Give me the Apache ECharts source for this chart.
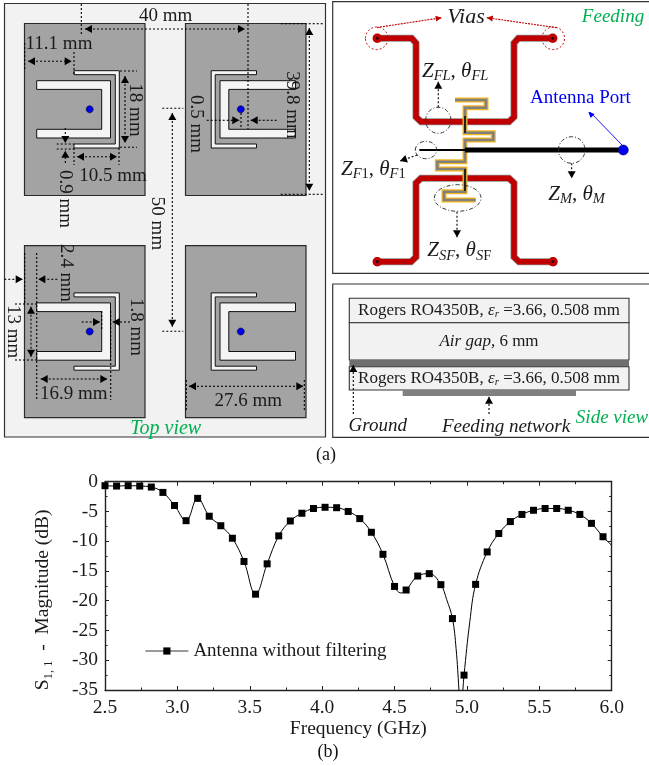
<!DOCTYPE html>
<html><head><meta charset="utf-8">
<style>html,body{margin:0;padding:0;background:#fff}#c{width:649px;height:766px}</style>
<script src="https://cdn.jsdelivr.net/npm/echarts@6/dist/echarts.min.js"></script></head>
<body><div id="c"></div>
<script>
const markerFreq=[2.50,2.58,2.66,2.74,2.82,2.90,2.98,3.06,3.14,3.22,3.30,3.38,3.46,3.54,3.62,3.70,3.78,3.86,3.94,4.02,4.10,4.18,4.26,4.34,4.42,4.50,4.58,4.66,4.74,4.82,4.90,4.98,5.06,5.14,5.22,5.30,5.38,5.46,5.54,5.62,5.70,5.78,5.86,5.94];
const markerS11=[-0.67,-0.73,-0.67,-0.73,-0.9,-1.8,-4.0,-6.55,-2.8,-5.8,-7.4,-9.5,-13.4,-18.9,-13.8,-9.1,-6.6,-5.3,-4.5,-4.3,-4.37,-5.0,-6.2,-8.5,-12.2,-17.6,-18.2,-15.85,-15.45,-17.3,-23.0,-32.5,-17.25,-11.8,-8.7,-6.7,-5.5,-4.8,-4.5,-4.5,-4.8,-5.5,-7.0,-9.25];
const curveFreq=[4.545,4.86,4.925,4.945,4.958,4.972,5.02,6.0];
const curveS11=[-18.7,-19.8,-28.0,-35.0,-40.0,-35.0,-23.5,-10.7];
const seriesName='Antenna without filtering';
const xLimits=[2.5,6.0], yLimits=[-35,0];

const FONT='"Liberation Serif","Times New Roman",serif';
const G=[];let Z=10;
function rect(x0,y0,x1,y1,fill,stroke,lw){G.push({type:'rect',silent:true,z:Z++,shape:{x:x0,y:y0,width:x1-x0,height:y1-y0},style:{fill:fill||'transparent',stroke:stroke||null,lineWidth:lw||1}});}
function poly(pts,fill,stroke,lw){G.push({type:'polygon',silent:true,z:Z++,shape:{points:pts},style:{fill:fill,stroke:stroke||null,lineWidth:lw||1}});}
function line(pts,stroke,lw,dash,join){G.push({type:'polyline',silent:true,z:Z++,shape:{points:pts},style:{fill:'none',stroke:stroke,lineWidth:lw||1,lineDash:dash||null,lineJoin:join||'miter'}});}
function ell(cx,cy,rx,ry,fill,stroke,lw,dash){G.push({type:'ellipse',silent:true,z:Z++,shape:{cx:cx,cy:cy,rx:rx,ry:ry},style:{fill:fill||'transparent',stroke:stroke||null,lineWidth:lw||1,lineDash:dash||null}});}
function text(s,x,y,o){o=o||{};G.push({type:'text',silent:true,z:Z++,x:x,y:y,rotation:o.rot||0,style:{text:s,x:0,y:0,align:o.align||'center',verticalAlign:'middle',fontFamily:FONT,fontSize:o.size||19,fontStyle:o.italic?'italic':'normal',fill:o.color||'#1a1a1a',rich:o.rich}});}
function head(x,y,fromX,fromY,color,L,W){L=L||7;W=W||4;const a=Math.atan2(y-fromY,x-fromX),c=Math.cos(a),s=Math.sin(a);
 poly([[x,y],[x-L*c-W*s,y-L*s+W*c],[x-L*c+W*s,y-L*s-W*c]],color||'#000');}
const DOT=[2,2];
function dot(x0,y0,x1,y1){line([[x0,y0],[x1,y1]],'#000',1.1,DOT);}
function arrow(x0,y0,x1,y1,both,color,dash,L,W){line([[x0,y0],[x1,y1]],color||'#000',1.1,dash===undefined?DOT:dash);head(x1,y1,x0,y0,color,L,W);if(both)head(x0,y0,x1,y1,color,L,W);}

// Panel (a) top view
rect(4.5,3.5,325.5,437,'#f2f2f2','#333',1.2);
const PATCH='#a3a3a3', EDGE='#2a2a2a';
function uShape(xOpen,xBack,yT,yB,t,tb){const d=xBack>xOpen?1:-1;return [[xOpen,yT],[xBack,yT],[xBack,yB],[xOpen,yB],[xOpen,yB-t],[xBack-d*(tb||t),yB-t],[xBack-d*(tb||t),yT+t],[xOpen,yT+t]];}
function antenna(px0,py0,mirror){
 rect(px0,py0,px0+120.5,py0+172,PATCH,EDGE,1.2);
 const X=mirror?(v=>px0+120.5-v):(v=>px0+v);
 const dy=py0-23.5;
 poly(uShape(X(49.5),X(94.8),70.7+dy,148+dy,4,4),'#f4f4f4','#111',1);
 poly(uShape(X(mirror?10.5:12.2),X(86),80.7+dy,138+dy,8.7,8.8),'#f4f4f4','#111',1);
 ell(X(65.2),109.3+dy,3.5,3.5,'#0000e6','#000033',0.6);
}
antenna(24.5,23.5,false);antenna(185.5,23.5,true);antenna(24.5,245.7,false);antenna(185.5,245.7,true);

dot(81.3,4,81.3,35);dot(248,4,248,129);
arrow(85,29,245,29,true);
text('40 mm',165.7,16);
dot(24.7,43,24.7,69);dot(74,52,74,74);
arrow(28,61.3,71.7,61.3,true);
text('11.1 mm',59,44);
dot(120,71,137,71);dot(120,147.3,137,147.3);
arrow(125,76,125,143,true);
text('18 mm',135,110,{rot:-Math.PI/2});
dot(74,148,74,165);dot(119,148,119,165);
arrow(77,156.7,117,156.7,true);
text('10.5 mm',113,176);
arrow(65.3,128,65.3,143);arrow(65.3,163,65.3,150.7);
dot(56.7,144,74,144);dot(56.7,149,74,149);
text('0.9 mm',65,199,{rot:-Math.PI/2});
text('2.4 mm',65.7,273,{rot:-Math.PI/2});
dot(162.3,108.3,183.3,108.3);dot(162.3,331.3,183.3,331.3);
arrow(172.3,113,172.3,326.7,true);
text('50 mm',156.7,223.5,{rot:-Math.PI/2});
text('0.5 mm',195.7,124,{rot:-Math.PI/2});
arrow(206.7,120.3,239.3,120.3);arrow(276.7,120.3,250.7,120.3);dot(241,113,241,129);
text('39.8 mm',292,105,{rot:-Math.PI/2});
dot(280.7,23.7,323.3,23.7);dot(280.7,194.3,323.3,194.3);
arrow(309.3,28,309.3,190.7,true);
arrow(4.3,279.3,22.7,279.3);arrow(57.3,279.3,38.3,279.3);
dot(24.7,253,24.7,303);dot(36.7,253,36.7,400);
dot(15,304,36.7,304);dot(15,360,36.7,360);
arrow(31,306.7,31,356.7,true);
text('13 mm',13.3,331.7,{rot:-Math.PI/2});
arrow(81.7,322,100,322);arrow(130,322,112.7,322);dot(101.7,311,101.7,330);dot(110.7,311,110.7,400);
text('1.8 mm',135.7,327,{rot:-Math.PI/2});
arrow(40.7,379,107.3,379,true);
text('16.9 mm',73.7,394.3);
dot(186.3,380,186.3,410);dot(304.3,380,304.3,410);
arrow(189,386.3,303.3,386.3,true);
text('27.6 mm',248.3,400.7);
text('Top view',165.7,428.3,{italic:true,color:'#00b050',size:20});
text('(a)',326,455,{size:18,color:'#111'});

// Panel feeding
rect(332.7,1.7,655,273.3,'#fff','#333',1.2);
const RED='#c00000';
const topTrace=[[377.3,38.3],[411.7,38.3],[416,43],[416,117],[421,121.7],[509,121.7],[514,117],[514,43],[518.3,38.3],[552.7,38.3]];
const botTrace=[[377.3,261.7],[411,261.7],[416,257],[416,183],[421,178.3],[509,178.3],[514,183],[514,257],[519,261.7],[552.7,261.7]];
[topTrace,botTrace].forEach(t=>{line(t,'#8a8a8a',7);line(t,RED,5.5);});
const MEANDER_A=[[455,100],[486,100],[486,107.7],[465,107.7],[465,132.7],[493.3,132.7],[493.3,140],[465,140],[465,150]];
const MEANDER_B=[[465,150],[465,161.7],[437.3,161.7],[437.3,169],[465,169],[465,191.7],[444,191.7],[444,200],[475.7,200]];
[MEANDER_A,MEANDER_B].forEach(t=>{line(t,'#f5b81f',5);line(t,'#808080',2.6);});
line([[465,116],[465,133]],'#222',2);line([[465,169],[465,191]],'#222',2);
line([[419.3,150],[465,150]],'#000',1.8);
line([[465,150],[623,150]],'#000',5);
ell(623.3,150,5,5,'#0000f0','#00005a',0.6);
[[377.3,38.3],[552.7,38.3],[377.3,261.7],[553,261.7]].forEach(p=>{ell(p[0],p[1],4.7,4.7,RED);ell(p[0],p[1],1.4,1.4,'#111');});
ell(376.7,38.3,11.3,11.3,null,RED,0.9,[2,2]);ell(553.3,38.3,11.3,11.3,null,RED,0.9,[2,2]);
arrow(377,27.5,441.7,17.7,false,RED,[2,1],6,3);
arrow(556.7,27.7,486.7,17.7,false,RED,[2,1],6,3);
text('Vias',466,17.3,{italic:true,size:22});
text('Feeding',613,16.7,{italic:true,color:'#00b050'});
const DD=[4,2,1,2];
ell(438.3,120.3,12.7,13,null,'#222',0.9,DD);
ell(426,150,10.7,8.7,null,'#222',0.9,DD);
ell(571.7,150,13.3,13.3,null,'#222',0.9,DD);
ell(457.7,198,23.3,13.3,null,'#222',0.9,DD);
arrow(438.3,107.3,438.3,81.7);
arrow(417.3,155,400,161);
arrow(571.7,163.3,571.7,178.3);
arrow(457,211.7,457,237.3);
line([[622,145],[590,112]],'#0000f0',0.9);head(588.3,111.7,622,145,'#0000f0',6,2.8);
text('Antenna Port',580.5,98,{color:'#0000f0'});
const zr={z:{fontSize:21,fontStyle:'italic',fontFamily:FONT,verticalAlign:'bottom',padding:[0,0,2,0],fill:'#1a1a1a'},
 n:{fontSize:21,fontFamily:FONT,verticalAlign:'bottom',padding:[0,0,2,0],fill:'#1a1a1a'},
 s:{fontSize:14.5,fontStyle:'italic',fontFamily:FONT,verticalAlign:'bottom',fill:'#1a1a1a'},
 u:{fontSize:14.5,fontFamily:FONT,verticalAlign:'bottom',fill:'#1a1a1a'}};
text('{z|Z}{s|FL}{n|, }{z|θ}{s|FL}',422,72,{align:'left',rich:zr});
text('{z|Z}{s|F}{u|1}{n|, }{z|θ}{s|F}{u|1}',341,170,{align:'left',rich:zr});
text('{z|Z}{s|M}{n|, }{z|θ}{s|M}',548.3,195,{align:'left',rich:zr});
text('{z|Z}{s|SF}{n|, }{z|θ}{s|S}{u|F}',427.3,251.7,{align:'left',rich:zr});

// Panel side view
rect(332.7,284,655,437.3,'#fff','#333',1.2);
rect(349.3,298.3,629,322.7,'#f2f2f2','#333',1.1);
rect(349.3,322.7,629,360,'#f2f2f2','#333',1.1);
rect(349.3,360,629,366.7,'#6f6f6f',null);
rect(349.3,366.7,629,390,'#f2f2f2','#333',1.1);
rect(402.7,390,576,396,'#808080',null);
const sr={n:{fontSize:17,fontFamily:FONT,fill:'#1a1a1a',verticalAlign:'bottom',padding:[0,0,1,0]},
 e:{fontSize:17,fontFamily:FONT,fontStyle:'italic',fill:'#1a1a1a',verticalAlign:'bottom',padding:[0,0,1,0]},
 r:{fontSize:11,fontFamily:FONT,fontStyle:'italic',fill:'#1a1a1a',verticalAlign:'bottom'}};
const layerLabel='{n|Rogers RO4350B, }{e|ε}{r|r}{n| =3.66, 0.508 mm}';
text(layerLabel,489,311,{rich:sr});
text('{e|Air gap}{n|, 6 mm}',489,342.3,{rich:sr});
text(layerLabel,489,378.7,{rich:sr});
arrow(353.3,414,353.3,365);
arrow(489,414,489,396.7);
text('Ground',377.7,426,{italic:true});
text('Feeding network',506,426.7,{italic:true});
text('Side view',612,417.7,{italic:true,color:'#00b050'});
text('(b)',328,752,{size:18,color:'#111'});

// chart data
const pts=[];
markerFreq.forEach((f,i)=>pts.push({value:[f,markerS11[i]]}));
curveFreq.forEach((f,i)=>pts.push({value:[f,curveS11[i]],symbol:'none'}));
pts.sort((a,b)=>a.value[0]-b.value[0]);

const axisLine={show:true,onZero:false,lineStyle:{color:'#222',width:1.4}};
const tick={show:true,inside:true,length:4,lineStyle:{color:'#222',width:1}};
const minor={show:true,splitNumber:2,length:2.5,lineStyle:{color:'#222',width:1}};
const lbl={fontFamily:FONT,fontSize:19.5,color:'#1a1a1a'};
const chart=echarts.init(document.getElementById('c'),null,{renderer:'canvas'});
chart.setOption({
 animation:false,backgroundColor:'#fff',
 textStyle:{fontFamily:FONT},
 grid:{left:105,top:481.7,width:506.7,height:208.3},
 legend:{left:145,top:641.5,padding:0,itemWidth:43,itemHeight:9,selectedMode:false,
   lineStyle:{width:0.8},
   textStyle:{fontFamily:FONT,fontSize:19,color:'#1a1a1a',padding:[0,0,0,0]},data:[seriesName]},
 xAxis:[{type:'value',min:xLimits[0],max:xLimits[1],interval:0.5,axisLine,axisTick:tick,minorTick:minor,splitLine:{show:false},minorSplitLine:{show:false},
   axisLabel:{...lbl,margin:8,showMaxLabel:true,formatter:v=>v.toFixed(1)},
   name:'Frequency (GHz)',nameLocation:'center',nameGap:25,nameTextStyle:{fontFamily:FONT,fontSize:19.5,color:'#1a1a1a'}},
  {type:'value',position:'top',min:xLimits[0],max:xLimits[1],interval:0.5,axisLine,axisTick:tick,minorTick:minor,splitLine:{show:false},axisLabel:{show:false}}],
 yAxis:[{type:'value',min:yLimits[0],max:yLimits[1],interval:5,axisLine,axisTick:tick,minorTick:minor,splitLine:{show:false},minorSplitLine:{show:false},
   axisLabel:{...lbl,margin:7},
   name:'{m|S}{s|1, 1}{m|  -  Magnitude (dB)}',nameLocation:'center',nameRotate:90,nameGap:50,
   nameTextStyle:{padding:[0,28,0,0],rich:{m:{fontFamily:FONT,fontSize:19.5,color:'#1a1a1a',verticalAlign:'bottom',padding:[0,0,2,0]},s:{fontFamily:FONT,fontSize:12.5,color:'#1a1a1a',verticalAlign:'bottom'}}}},
  {type:'value',position:'right',min:yLimits[0],max:yLimits[1],interval:5,axisLine,axisTick:tick,minorTick:minor,splitLine:{show:false},axisLabel:{show:false}}],
 series:[{name:seriesName,type:'line',data:pts,smooth:0.4,symbol:'rect',symbolSize:7,showAllSymbol:true,clip:true,
   lineStyle:{color:'#000',width:1},itemStyle:{color:'#000'},emphasis:{disabled:true},silent:true}],
 graphic:{elements:G}
});
</script></body></html>
